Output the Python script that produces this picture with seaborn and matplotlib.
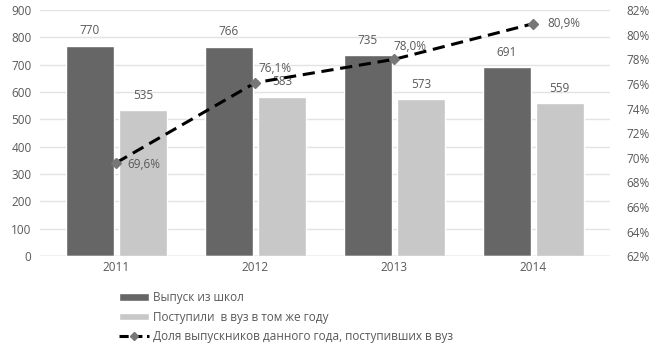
import matplotlib
matplotlib.use("Agg")
import matplotlib.pyplot as plt
import seaborn as sns
import pandas as pd
from matplotlib.lines import Line2D
from matplotlib.patches import Patch

years = ["2011", "2012", "2013", "2014"]
graduates = [770, 766, 735, 691]
enrolled = [535, 583, 573, 559]
share = [69.6, 76.1, 78.0, 80.9]
share_labels = ["69,6%", "76,1%", "78,0%", "80,9%"]

name_grad = "Выпуск из школ"
name_enr = "Поступили  в вуз в том же году"
name_share = "Доля выпускников данного года, поступивших в вуз"

df = pd.DataFrame({
    "year": years * 2,
    "value": graduates + enrolled,
    "series": [name_grad] * 4 + [name_enr] * 4,
})

sns.set_theme(style="white")
plt.rcParams["font.family"] = ["Open Sans", "DejaVu Sans"]
text_c = "#595959"
fs = 8.5

fig = plt.figure(figsize=(6.55, 3.48), dpi=100)
ax = fig.add_axes([0.061, 0.264, 0.870, 0.707])

sns.barplot(data=df, x="year", y="value", hue="series",
            palette=["#666666", "#c8c8c8"], width=0.76, gap=0.1,
            ax=ax, legend=False, saturation=1)

ax.set_ylim(0, 900)
ax.set_yticks(range(0, 901, 100))
ax.grid(axis="y", color="#e3e3e3", linewidth=1)
ax.set_axisbelow(True)
for s in ax.spines.values():
    s.set_visible(False)
ax.axhline(0, color="#d0d0d0", linewidth=1)
ax.set_xlabel("")
ax.set_ylabel("")
ax.tick_params(axis="both", labelsize=fs, colors=text_c, length=0)
ax.tick_params(axis="y", pad=6)

for cont in ax.containers:
    ax.bar_label(cont, fmt="%d", padding=6, fontsize=fs, color=text_c)

ax2 = ax.twinx()
ax2.plot(range(len(years)), share, linestyle=(0, (4, 2.2)), color="black",
         linewidth=2.2, marker="D", markersize=5, markerfacecolor="#777777",
         markeredgecolor="#777777", zorder=5)
# label offsets (points) roughly as in the original chart
offsets = [(8, -1), (2, 10), (-1, 9), (10, 0)]
for i, (v, lab) in enumerate(zip(share, share_labels)):
    ax2.annotate(lab, (i, v), xytext=offsets[i], textcoords="offset points",
                 fontsize=fs, color=text_c, va="center", ha="left")
ax2.set_ylim(62, 82)
ax2.set_yticks(range(62, 83, 2))
ax2.set_yticklabels([f"{t}%" for t in range(62, 83, 2)])
ax2.tick_params(axis="y", labelsize=fs, colors=text_c, length=0, pad=12)
for s in ax2.spines.values():
    s.set_visible(False)
ax.set_xlim(-0.55, 3.55)

handles = [
    Patch(facecolor="#666666", label=name_grad),
    Patch(facecolor="#c8c8c8", label=name_enr),
    Line2D([0], [0], linestyle=(0, (3, 1.5)), color="black", linewidth=2.2,
           marker="D", markersize=4, markerfacecolor="#777777",
           markeredgecolor="#777777", label=name_share),
]
leg = fig.legend(handles=handles, loc="upper left", bbox_to_anchor=(0.172, 0.18),
                 frameon=False, fontsize=fs, handlelength=2.6, handleheight=0.6,
                 labelspacing=0.55, handletextpad=0.3, borderpad=0)
for t in leg.get_texts():
    t.set_color(text_c)

fig.savefig("out.png", dpi=100)
